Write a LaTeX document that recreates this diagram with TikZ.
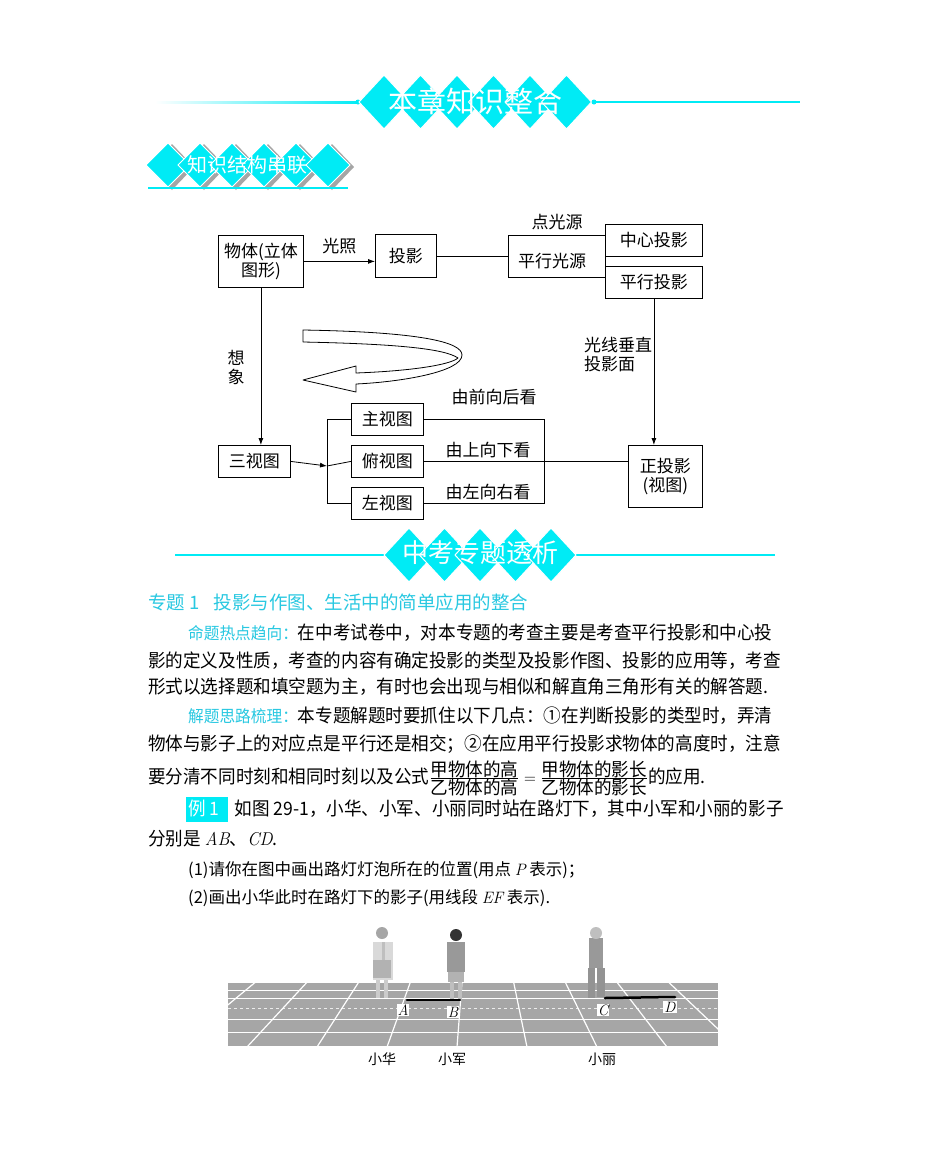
\documentclass[tikz,border=0pt]{standalone}
\usepackage{fontspec}
\setmainfont{Noto Sans CJK SC}
\newfontfamily\lmr{Latin Modern Roman}
\usetikzlibrary{arrows.meta}
\definecolor{cy}{RGB}{0,235,245}
\definecolor{cyt}{RGB}{40,200,225}
\definecolor{gr}{RGB}{165,165,165}
\tikzset{
 bx/.style={draw,thick,inner sep=0pt,anchor=north west},
 lbl/.style={font=\fontsize{17}{19}\selectfont,inner sep=0pt},
 arr/.style={thick,-{Latex[length=7pt,width=5pt]}},
 ln/.style={thick},
 dia/.style={fill=cy,draw=white,line width=1pt},
 para/.style={anchor=base west,inner sep=0pt,font=\fontsize{18.5}{20}\selectfont},
 letter/.style={fill=white,inner sep=1pt,font=\fontsize{15}{15}\selectfont\lmr\itshape}
}
\newcommand\bxn[6]{\node[bx,minimum width=#4pt,minimum height=#5pt] (#1) at (#2,#3) {};\node[lbl,align=center] at (#1.center) {#6};}
\begin{document}
\begin{tikzpicture}[x=1pt,y=-1pt]
\useasboundingbox[fill=white] (0,0) rectangle (950,1149);
% ===== header 1
\shade[left color=white,right color=cy] (155,101) rectangle (360,103);
\draw[cy,line width=1.2pt] (590,102) -- (800,102);
\fill[cy] (358,102) circle (2.5);\fill[cy] (594,102) circle (2.5);
\foreach \i in {0,...,5}{\fill[dia] ({384+\i*36.5},75) -- ({409+\i*36.5},102) -- ({384+\i*36.5},129) -- ({359+\i*36.5},102) -- cycle;}
\node[text=white,font=\fontsize{29}{30}\selectfont] (h1) at (475,101) {本章知识整合};
% ===== header 2
\foreach \i in {0,...,5}{
 \fill[gr] ({172+\i*32},144) -- ({194+\i*32},167) -- ({172+\i*32},190) -- ({150+\i*32},167) -- cycle;
 \fill[dia] ({168+\i*32},143) -- ({190+\i*32},165) -- ({168+\i*32},187) -- ({146+\i*32},165) -- cycle;}
\draw[cy,line width=1.2pt] (148,188) -- (348,188);
\node[text=white,font=\fontsize{20}{22}\selectfont] (h2) at (247,165) {知识结构串联};
% ===== diagram
\bxn{wt}{218}{235}{85}{52}{物体(立体\\图形)}
\bxn{ty}{375}{234}{61}{43}{投影}
\bxn{px}{508}{235}{97}{42}{}
\node[lbl] at (552,261) {平行光源};
\bxn{zx}{605}{224}{97}{32}{中心投影}
\bxn{pt}{605}{266}{97}{32}{平行投影}
\node[lbl] (dgy) at (557,222) {点光源};
\bxn{zt}{628}{445}{74}{62}{正投影\\(视图)}
\bxn{sv}{218}{445}{72}{32}{三视图}
\bxn{zs}{351}{403}{72}{32}{主视图}
\bxn{fs}{351}{445}{72}{32}{俯视图}
\bxn{ys}{351}{487}{72}{32}{左视图}
\draw[arr] (wt.east) -- node[lbl,above=7pt] {光照} (ty.west |- wt.east);
\draw[ln] (ty.east) -- (px.west |- ty.east);
\draw[arr] (pt.south) -- (zt.north -| pt.south);
\draw[arr] (wt.south) -- (sv.north -| wt.south);
\node[lbl,align=center] at (236,367) {想\\象};
\node[lbl,align=left] at (618,355) {光线垂直\\投影面};
\coordinate (bl) at (327,466);
\coordinate (br) at (544,466);
\draw[arr] (sv.east) -- (bl);
\draw[ln] (zs.west) -- (zs.west -| bl) -- (ys.west -| bl) -- (ys.west);
\draw[ln] (bl) -- (fs.west);
\draw[ln] (zs.east) -- (zs.east -| br) -- (ys.east -| br) -- (ys.east);
\draw[ln] (fs.east) -- (zt.west |- fs.east);
\node[lbl] at (494,397) {由前向后看};
\node[lbl] at (488,450) {由上向下看};
\node[lbl] at (488,492) {由左向右看};
% curved hollow arrow
\draw[thick,fill=white,line join=round] (303,342) -- (303,330) .. controls (420,332) and (462,342) .. (462,355)
 .. controls (462,372) and (400,382) .. (356,384) -- (356,392) -- (303,380) -- (356,366) -- (356,373)
 .. controls (410,371) and (450,365) .. (458,358)
 .. controls (445,349) and (400,344) .. (303,342) -- cycle;
% ===== header 3
\draw[cy,line width=1.2pt] (175,555) -- (385,555);
\draw[cy,line width=1.2pt] (575,555) -- (775,555);
\foreach \i in {0,...,4}{\fill[dia] ({409+\i*35.5},528) -- ({434+\i*35.5},555) -- ({409+\i*35.5},582) -- ({384+\i*35.5},555) -- cycle;}
\node[text=white,font=\fontsize{26}{27}\selectfont] (h3) at (480,553) {中考专题透析};
% ===== text
\node[para,text=cyt] (t0) at (148,609) {专题 1\hspace{14pt}投影与作图、生活中的简单应用的整合};
\node[para] (t1) at (188,639) {\scalebox{0.95}[1]{{\color{cyt}\fontsize{16.5}{17}\selectfont 命题热点趋向：}在中考试卷中，对本专题的考查主要是考查平行投影和中心投}};
\node[para] (t2) at (148,667) {\scalebox{0.95}[1]{影的定义及性质，考查的内容有确定投影的类型及投影作图、投影的应用等，考查}};
\node[para] (t3) at (148,693) {\scalebox{0.95}[1]{形式以选择题和填空题为主，有时也会出现与相似和解直角三角形有关的解答题.}};
\node[para] (t4) at (188,722) {\scalebox{0.95}[1]{{\color{cyt}\fontsize{16.5}{17}\selectfont 解题思路梳理：}本专题解题时要抓住以下几点：①在判断投影的类型时，弄清}};
\node[para] (t5) at (148,750) {\scalebox{0.95}[1]{物体与影子上的对应点是平行还是相交；②在应用平行投影求物体的高度时，注意}};
\node[para] (t6) at (148,783) {\scalebox{0.95}[1]{要分清不同时刻和相同时刻以及公式$\frac{\hbox{甲物体的高}}{\hbox{乙物体的高}}=\frac{\hbox{甲物体的影长}}{\hbox{乙物体的影长}}$的应用.}};
\fill[cy] (186,797) rectangle (228,822);
\node[para] (t7) at (188,815) {\scalebox{0.95}[1]{{\color{white}例 1}\hspace{16pt}如图 29-1，小华、小军、小丽同时站在路灯下，其中小军和小丽的影子}};
\node[para] (t8) at (148,845) {\scalebox{0.95}[1]{分别是 {\lmr\itshape AB}、{\lmr\itshape CD}.}};
\node[para,font=\fontsize{16.5}{18}\selectfont] (t9) at (188,875) {(1)请你在图中画出路灯灯泡所在的位置(用点 {\lmr\itshape P} 表示)；};
\node[para,font=\fontsize{16.5}{18}\selectfont] (t10) at (188,903) {(2)画出小华此时在路灯下的影子(用线段 {\lmr\itshape EF} 表示).};
% ===== photo
\fill[gray!70] (228,982) rectangle (718,1047);
\begin{scope}
\clip (228,982) rectangle (718,1047);
\foreach \y in {982,990,998,1019,1032}{\draw[white,line width=1pt] (228,\y) -- (718,\y);}
\draw[white!85!gray,dashed,line width=1pt] (228,1008) -- (718,1008);
\foreach \k in {-5,...,5}{\draw[white,line width=1.2pt] ({462+51.6*\k},982) -- ({457+70*\k},1047);}
\end{scope}
\draw[white,line width=1.5pt] (228,1047) -- (718,1047);
\draw[black,line width=2.5pt,line cap=round] (407,1000) -- (460,1000);
\draw[black,line width=2.5pt,line cap=round] (605,998) -- (675,997);
% figures
\fill[gray!30] (373,942) rectangle (393,980);
\fill[gray!50] (382,942) rectangle (385,975);
\fill[gray!60] (373,960) rectangle (391,978);
\fill[gray!40] (376,980) rectangle (380,998);\fill[gray!40] (384,980) rectangle (388,998);
\fill[gray!70] (382,933) circle (6);
\fill[gray!80] (447,942) rectangle (465,972);
\fill[gray!60] (448,972) rectangle (464,982);
\fill[gray!50] (450,982) rectangle (454,999);\fill[gray!50] (458,982) rectangle (462,999);
\fill[black!80] (456,935) circle (6);
\fill[gray!80] (589,938) rectangle (603,968);
\fill[gray!85] (588,968) rectangle (595,998);\fill[gray!85] (597,968) rectangle (605,997);
\fill[gray!50] (596,933) circle (6);
\node[letter] (la) at (403,1010) {A};
\node[letter] (lb) at (453,1012) {B};
\node[letter] (lc) at (603,1010) {C};
\node[letter] (ld) at (670,1007) {D};
\node[font=\fontsize{14}{14}\selectfont] (n1) at (382,1059) {小华};
\node[font=\fontsize{14}{14}\selectfont] (n2) at (452,1059) {小军};
\node[font=\fontsize{14}{14}\selectfont] (n3) at (602,1059) {小丽};
\end{tikzpicture}
\end{document}
